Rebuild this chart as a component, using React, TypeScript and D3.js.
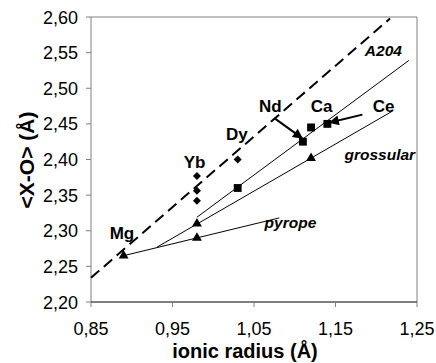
import React from "react";
import * as d3 from "d3";

// ionic radius (x) vs <X-O> (y)
const triangles = [
  { r: 0.89, xo: 2.265 },
  { r: 0.98, xo: 2.29 },
  { r: 0.98, xo: 2.31 },
  { r: 1.12, xo: 2.402 },
];
const squares = [
  { r: 1.03, xo: 2.36 },
  { r: 1.11, xo: 2.425 },
  { r: 1.12, xo: 2.445 },
  { r: 1.14, xo: 2.45 },
];
const diamonds = [
  { r: 0.98, xo: 2.377 },
  { r: 0.98, xo: 2.356 },
  { r: 0.98, xo: 2.342 },
  { r: 1.03, xo: 2.4 },
];

// fitted lines [start, end]
const dashedLine = [
  { r: 0.85, xo: 2.234 },
  { r: 1.217, xo: 2.598 },
];
const a204Line = [
  { r: 0.98, xo: 2.319 },
  { r: 1.24, xo: 2.539 },
];
const grossularLine = [
  { r: 0.931, xo: 2.277 },
  { r: 1.22, xo: 2.468 },
];
const pyropeLine = [
  { r: 0.89, xo: 2.265 },
  { r: 1.081, xo: 2.318 },
];

const xTicks = [0.85, 0.95, 1.05, 1.15, 1.25];
const yTicks = [2.2, 2.25, 2.3, 2.35, 2.4, 2.45, 2.5, 2.55, 2.6];

const elementLabels = [
  { name: "Mg", r: 0.888, xo: 2.288 },
  { name: "Yb", r: 0.977, xo: 2.388 },
  { name: "Dy", r: 1.029, xo: 2.428 },
  { name: "Nd", r: 1.07, xo: 2.466 },
  { name: "Ca", r: 1.133, xo: 2.466 },
  { name: "Ce", r: 1.209, xo: 2.466 },
];
const lineLabels = [
  { name: "A204", r: 1.186, xo: 2.5455 },
  { name: "grossular", r: 1.161, xo: 2.4 },
  { name: "pyrope", r: 1.063, xo: 2.304 },
];
const arrows = [
  { from: { r: 1.075, xo: 2.458 }, to: { r: 1.109, xo: 2.43 } },
  { from: { r: 1.183, xo: 2.463 }, to: { r: 1.143, xo: 2.452 } },
];

const W = 436;
const H = 363;
const margin = { top: 17, right: 19, bottom: 61, left: 91 };

export default function App() {
  const x = d3
    .scaleLinear()
    .domain([0.85, 1.25])
    .range([margin.left, W - margin.right]);
  const y = d3
    .scaleLinear()
    .domain([2.2, 2.6])
    .range([H - margin.bottom, margin.top]);

  const line = d3
    .line<{ r: number; xo: number }>()
    .x((d) => x(d.r))
    .y((d) => y(d.xo));

  const tri = d3.symbol(d3.symbolTriangle, 42)()!;
  const sq = d3.symbol(d3.symbolSquare, 62)()!;
  const dia = d3.symbol(d3.symbolSquare, 32)()!;

  const font = "Arial, 'Liberation Sans', sans-serif";
  const x0 = margin.left;
  const x1 = W - margin.right;
  const y0 = H - margin.bottom;
  const y1 = margin.top;

  return (
    <svg
      width={W}
      height={H}
      style={{ position: "absolute", left: 0, top: 0, background: "#fff" }}
      fontFamily={font}
    >
      <defs>
        <marker
          id="ah"
          viewBox="0 0 10 10"
          refX="9"
          refY="5"
          markerWidth="6"
          markerHeight="5"
          orient="auto"
        >
          <path d="M0,0 L10,5 L0,10 z" fill="#000" />
        </marker>
      </defs>

      {/* frame */}
      <path
        d={`M${x0},${y0} L${x0},${y1} L${x1},${y1} L${x1},${y0}`}
        fill="none"
        stroke="#808080"
        strokeWidth={1}
      />
      <line x1={x0} x2={x1} y1={y0} y2={y0} stroke="#000" strokeWidth={1.2} />

      {/* y axis */}
      {yTicks.map((t) => (
        <g key={t}>
          <line x1={x0 - 5} x2={x0} y1={y(t)} y2={y(t)} stroke="#808080" />
          <text
            x={x0 - 13}
            y={y(t) + 6.5}
            textAnchor="end"
            fontSize={18}
            fill="#000"
          >
            {t.toFixed(2).replace(".", ",")}
          </text>
        </g>
      ))}

      {/* x axis */}
      {xTicks.map((t) => (
        <g key={t}>
          <line x1={x(t)} x2={x(t)} y1={y0} y2={y0 + 5} stroke="#808080" />
          <text x={x(t)} y={335} textAnchor="middle" fontSize={18} fill="#000">
            {t.toFixed(2).replace(".", ",")}
          </text>
        </g>
      ))}

      <text
        x={(x0 + x1) / 2 - 9}
        y={358}
        textAnchor="middle"
        fontSize={20}
        fontWeight="bold"
      >
        ionic radius (Å)
      </text>
      <text
        transform={`translate(34,160) rotate(-90)`}
        textAnchor="middle"
        fontSize={21}
        fontWeight="bold"
      >
        {"<X-O> (Å)"}
      </text>

      {/* lines */}
      <path
        d={line(dashedLine)!}
        fill="none"
        stroke="#000"
        strokeWidth={2}
        strokeDasharray="11,6"
      />
      <path d={line(a204Line)!} fill="none" stroke="#000" strokeWidth={1} />
      <path d={line(grossularLine)!} fill="none" stroke="#000" strokeWidth={1} />
      <path d={line(pyropeLine)!} fill="none" stroke="#000" strokeWidth={1} />

      {/* markers */}
      {triangles.map((d, i) => (
        <path key={"t" + i} d={tri} transform={`translate(${x(d.r)},${y(d.xo)})`} fill="#000" />
      ))}
      {squares.map((d, i) => (
        <path key={"s" + i} d={sq} transform={`translate(${x(d.r)},${y(d.xo)})`} fill="#000" />
      ))}
      {diamonds.map((d, i) => (
        <path
          key={"d" + i}
          d={dia}
          transform={`translate(${x(d.r)},${y(d.xo)}) rotate(45)`}
          fill="#000"
        />
      ))}

      {/* arrows */}
      {arrows.map((a, i) => (
        <line
          key={"a" + i}
          x1={x(a.from.r)}
          y1={y(a.from.xo)}
          x2={x(a.to.r)}
          y2={y(a.to.xo)}
          stroke="#000"
          strokeWidth={2}
          markerEnd="url(#ah)"
        />
      ))}

      {/* labels */}
      {elementLabels.map((l) => (
        <text
          key={l.name}
          x={x(l.r)}
          y={y(l.xo)}
          textAnchor="middle"
          fontSize={17}
          fontWeight="bold"
        >
          {l.name}
        </text>
      ))}
      {lineLabels.map((l) => (
        <text
          key={l.name}
          x={x(l.r)}
          y={y(l.xo)}
          fontSize={15.5}
          fontWeight="bold"
          fontStyle="italic"
        >
          {l.name}
        </text>
      ))}
    </svg>
  );
}
